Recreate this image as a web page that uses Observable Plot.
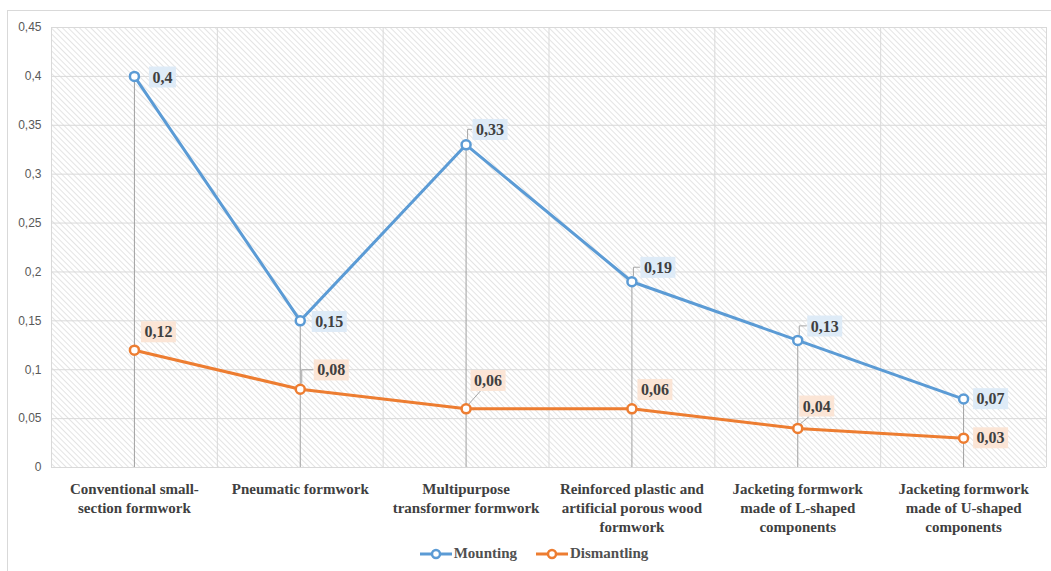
<!DOCTYPE html>
<html>
<head>
<meta charset="utf-8">
<script src="https://cdn.jsdelivr.net/npm/d3@7"></script>
<script src="https://cdn.jsdelivr.net/npm/@observablehq/plot@0.6"></script>
<style>
  html, body { margin: 0; padding: 0; background: #fff; overflow: hidden; }
  #frame { position: absolute; left: 7px; top: 10px; width: 1100px; height: 600px; border: 1px solid #d9d9d9; box-sizing: border-box; }
  #chart { position: absolute; left: 0; top: 0; }
  #legend { position: absolute; left: 8px; top: 545px; width: 1051px; text-align: center;
            font-family: "Liberation Serif", "Times New Roman", "DejaVu Serif", serif; font-weight: bold; font-size: 15px; color: #505050; }
  .item { display: inline-flex; align-items: center; margin: 0 9px; }
  .item svg { margin-right: 1px; }
</style>
</head>
<body>
<div id="frame"></div>
<div id="chart"></div>
<div id="legend"></div>
<script>
// ---- data ----
const categories = [
  "Conventional small-\nsection formwork",
  "Pneumatic formwork",
  "Multipurpose\ntransformer formwork",
  "Reinforced plastic and\nartificial porous wood\nformwork",
  "Jacketing formwork\nmade of L-shaped\ncomponents",
  "Jacketing formwork\nmade of U-shaped\ncomponents"
];
const seriesNames = ["Mounting", "Dismantling"];
const mounting = [0.4, 0.15, 0.33, 0.19, 0.13, 0.07];
const dismantling = [0.12, 0.08, 0.06, 0.06, 0.04, 0.03];
const yTicks = [0, 0.05, 0.1, 0.15, 0.2, 0.25, 0.3, 0.35, 0.4, 0.45];

// ---- styling / layout ----
const serifFont = "'Liberation Serif', 'Times New Roman', 'DejaVu Serif', serif";
const colors = {Mounting: "#5b9bd5", Dismantling: "#ed7d31"};
const boxFill = {Mounting: "#deebf7", Dismantling: "#fbe5d6"};
const labelInk = {Mounting: "#404041", Dismantling: "#404042"};
// [dx, dy, leader]
const labelLayout = {
  Mounting: [[28, 1, null], [29, 1, null], [24, -15, "elbow"], [26, -14, "elbow"], [27, -14, "elbow"], [27, 0, null]],
  Dismantling: [[24, -18, null], [31, -19, "elbow"], [22, -28, "diag"], [23, -19, null], [19, -22, "diag"], [27, 0, null]]
};
const series = {Mounting: mounting, Dismantling: dismantling};
const fmt = v => String(+(+v).toFixed(2)).replace(".", ",");

const labelMarks = [];
for (const s of seriesNames) {
  series[s].forEach((v, i) => {
    const [dx, dy] = labelLayout[s][i];
    labelMarks.push(Plot.text([v], {
      x: () => i, y: d => d, text: d => fmt(d), dx, dy,
      textAnchor: "middle", lineAnchor: "middle",
      fontFamily: serifFont, fontWeight: "bold", fontSize: 16, fill: labelInk[s]
    }));
  });
}

const chart = Plot.plot({
  width: 1051, height: 540,
  marginLeft: 51, marginRight: 5, marginTop: 27, marginBottom: 73,
  x: {type: "linear", domain: [-0.5, categories.length - 0.5], axis: null},
  y: {domain: [0, 0.45], axis: null},
  style: {background: "transparent", overflow: "visible"},
  marks: [
    Plot.frame({fill: "url(#hatch)", stroke: null}),
    Plot.gridY(yTicks, {stroke: "#d9d9d9", strokeOpacity: 1, strokeWidth: 1}),
    Plot.ruleX(d3.range(categories.length + 1).map(i => i - 0.5), {stroke: "#d9d9d9", strokeWidth: 1}),
    Plot.ruleX(categories.map((c, i) => i), {y1: 0, y2: i => Math.max(mounting[i], dismantling[i]), stroke: "#a0a0a0", strokeWidth: 1}),
    Plot.axisY(yTicks, {tickSize: 0, tickPadding: 10, tickFormat: fmt, fill: "#595959", fontSize: 12, fontFamily: "Liberation Sans"}),
    ...seriesNames.map(s => Plot.line(series[s], {x: (d, i) => i, y: d => d, stroke: colors[s], strokeWidth: 3})),
    ...seriesNames.map(s => Plot.dot(series[s], {x: (d, i) => i, y: d => d, r: 4.5, fill: "white", stroke: colors[s], strokeWidth: 2.5})),
    Plot.text(categories, {
      x: (d, i) => i, frameAnchor: "bottom", dy: 13, text: d => d,
      lineAnchor: "top", lineHeight: 1.27, textAnchor: "middle",
      fontFamily: serifFont, fontWeight: "bold", fontSize: 15, fill: "#404040"
    }),
    ...labelMarks
  ]
});

document.getElementById("chart").append(chart);

// hatch pattern
const svg = d3.select(chart);
const defs = svg.insert("defs", ":first-child");
const pat = defs.append("pattern").attr("id", "hatch").attr("patternUnits", "userSpaceOnUse")
  .attr("width", 4).attr("height", 4).attr("patternTransform", "rotate(-45)");
pat.append("rect").attr("width", 4).attr("height", 4).attr("fill", "#ffffff");
pat.append("line").attr("x1", 0.5).attr("y1", 0).attr("x2", 0.5).attr("y2", 4).attr("stroke", "#e4e4e4").attr("stroke-width", 1);

// label boxes and leaders
const xs = chart.scale("x"), ys = chart.scale("y");
const allLabelGroups = seriesNames.map(s => Array.from(chart.querySelectorAll("g")).filter(g => g.getAttribute("fill") === labelInk[s]));
const firstLabel = allLabelGroups[0][0];
const leaders = d3.create("svg:g").attr("fill", "none").attr("stroke", "#a6a6a6").attr("stroke-width", 1);
if (firstLabel) firstLabel.parentNode.insertBefore(leaders.node(), firstLabel);

seriesNames.forEach((s, si) => {
  allLabelGroups[si].forEach((g, i) => {
    const t = g.querySelector("text");
    if (!t) return;
    t.setAttribute("fill", "#404040");
    const b = t.getBBox();
    const padX = 3.5, padY = 2;
    const r = d3.create("svg:rect")
      .attr("x", b.x - padX).attr("y", b.y - padY)
      .attr("width", b.width + 2 * padX).attr("height", b.height + 2 * padY)
      .attr("fill", boxFill[s]);
    if (t.getAttribute("transform")) r.attr("transform", t.getAttribute("transform"));
    g.insertBefore(r.node(), t);
    const [dx, dy, kind] = labelLayout[s][i];
    const px = xs.apply(i), py = ys.apply(series[s][i]);
    const w = b.width + 2 * padX, h = b.height + 2 * padY;
    const left = px + dx - w / 2, bottom = py + dy + h / 2;
    if (kind === "elbow") {
      leaders.append("path").attr("d", `M${px + 2},${py - 5}V${py + dy}H${left}`);
    } else if (kind === "diag") {
      leaders.append("path").attr("d", `M${px + 3},${py - 4}L${left + w * 0.3},${bottom}`);
    }
  });
});

// legend
const legend = d3.select("#legend");
for (const s of seriesNames) {
  const it = legend.append("span").attr("class", "item");
  const sv = it.append("svg").attr("width", 34).attr("height", 14);
  sv.append("line").attr("x1", 1).attr("x2", 33).attr("y1", 7).attr("y2", 7).attr("stroke", colors[s]).attr("stroke-width", 3);
  sv.append("circle").attr("cx", 17).attr("cy", 7).attr("r", 4).attr("fill", "white").attr("stroke", colors[s]).attr("stroke-width", 2.5);
  it.append("span").text(s);
}
</script>
</body>
</html>
